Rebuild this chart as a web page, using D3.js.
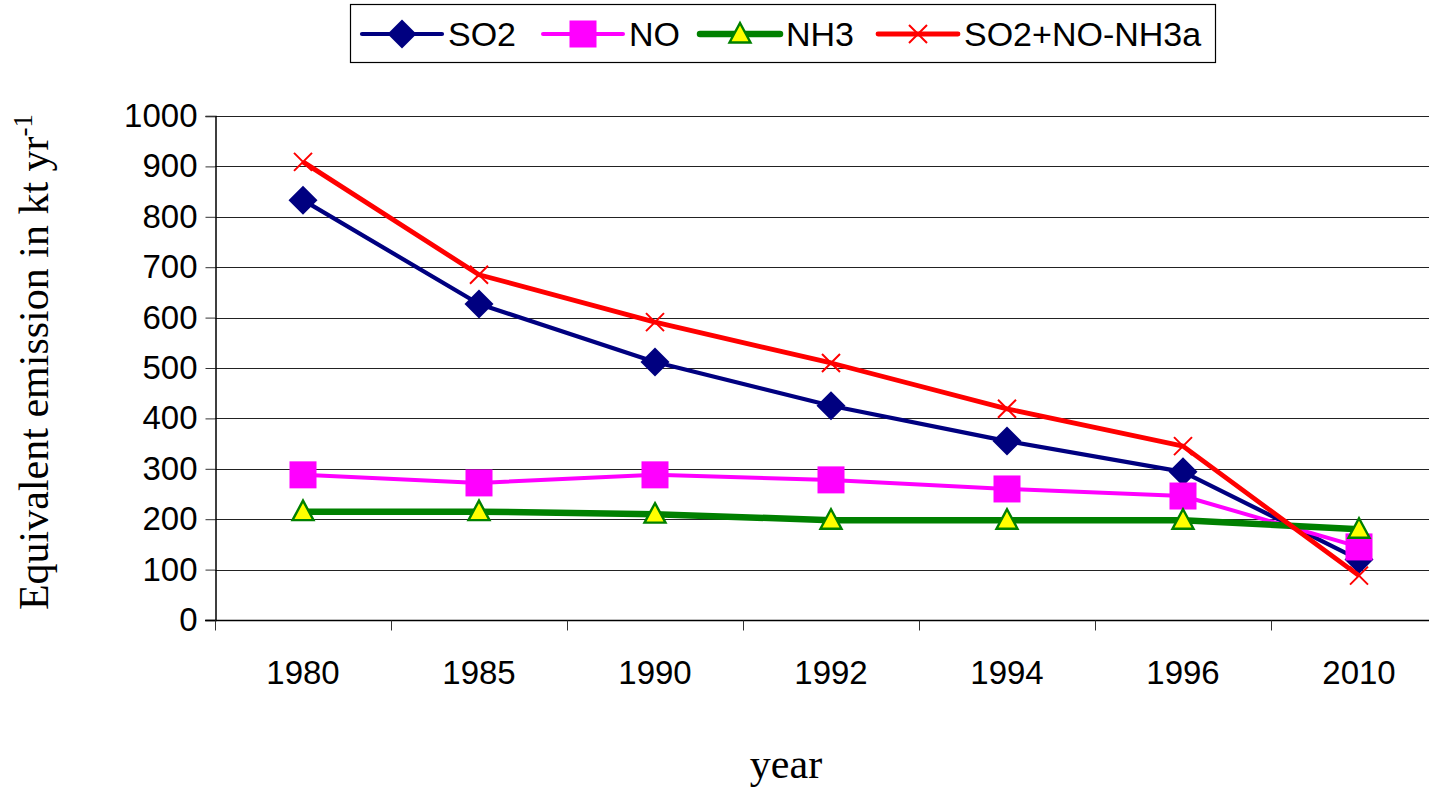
<!DOCTYPE html>
<html>
<head>
<meta charset="utf-8">
<script src="https://cdn.jsdelivr.net/npm/d3@7"></script>
<style>
  html, body { margin: 0; padding: 0; background: #fff; }
  svg { display: block; }
</style>
</head>
<body>
<svg id="chart" width="1429" height="788"></svg>
<script>
// Emission data (kt per year)
const years = ["1980", "1985", "1990", "1992", "1994", "1996", "2010"];
const so2 = [833, 627, 512, 425, 355, 294, 120];
const no = [288, 272, 288, 278, 260, 246, 145];
const nh3 = [215, 215, 210, 198, 198, 198, 180];
const combined = [909, 685, 591, 510, 419, 345, 88];
const yTicks = [0, 100, 200, 300, 400, 500, 600, 700, 800, 900, 1000];

const seriesList = [
  { name: "SO2", values: so2, color: "#000080", width: 4.2, marker: "diamond" },
  { name: "NO", values: no, color: "#FF00FF", width: 4, marker: "square" },
  { name: "NH3", values: nh3, color: "#008000", width: 6.5, marker: "triangle" },
  { name: "SO2+NO-NH3a", values: combined, color: "#FF0000", width: 4.8, marker: "cross" }
];

const svg = d3.select("#chart");
const plot = { left: 215, top: 116, right: 1447, bottom: 620 };
const sans = "Liberation Sans, Arial, sans-serif";
const serif = "Liberation Serif, Times New Roman, serif";

const x = d3.scaleBand().domain(years).range([plot.left, plot.right]).padding(0);
const y = d3.scaleLinear().domain([0, 1000]).range([plot.bottom, plot.top]);

// Horizontal gridlines
svg.append("g")
  .selectAll("line")
  .data(yTicks.filter(d => d > 0))
  .join("line")
  .attr("x1", plot.left).attr("x2", plot.right)
  .attr("y1", d => Math.round(y(d)) + 0.5).attr("y2", d => Math.round(y(d)) + 0.5)
  .attr("stroke", "#222").attr("stroke-width", 1);

// Y axis
const yAxis = svg.append("g")
  .attr("transform", `translate(${plot.left + 0.5},0)`)
  .call(d3.axisLeft(y).tickValues(yTicks).tickFormat(d3.format("d")).tickSize(10).tickPadding(8));
yAxis.select(".domain").attr("stroke", "#000").attr("stroke-width", 1.5);
yAxis.selectAll(".tick line").attr("stroke", "#333");
yAxis.selectAll(".tick text")
  .attr("font-family", sans)
  .attr("font-size", 33).attr("fill", "#000");

// X axis with ticks at category boundaries
const xAxisG = svg.append("g").attr("transform", `translate(0,${plot.bottom + 0.5})`);
xAxisG.append("line")
  .attr("x1", plot.left - 10).attr("x2", plot.right)
  .attr("stroke", "#000").attr("stroke-width", 1.5);
const boundaries = years.map(d => x(d)).concat([plot.right]);
xAxisG.selectAll("line.tick")
  .data(boundaries)
  .join("line")
  .attr("class", "tick")
  .attr("x1", d => Math.round(d) + 0.5).attr("x2", d => Math.round(d) + 0.5)
  .attr("y1", 0).attr("y2", 10)
  .attr("stroke", "#333");
xAxisG.selectAll("text")
  .data(years)
  .join("text")
  .attr("x", d => x(d) + x.bandwidth() / 2)
  .attr("y", 63)
  .attr("text-anchor", "middle")
  .attr("font-family", sans)
  .attr("font-size", 33)
  .text(d => d);

// Axis titles
const yTitle = svg.append("text")
  .attr("transform", "translate(48,362) rotate(-90)")
  .attr("text-anchor", "middle")
  .attr("font-family", serif)
  .attr("font-size", 42);
yTitle.append("tspan").text("Equivalent emission in kt yr");
yTitle.append("tspan").attr("font-size", 27).attr("dy", -16).text("-1");

svg.append("text")
  .attr("x", 786).attr("y", 778)
  .attr("text-anchor", "middle")
  .attr("font-family", serif)
  .attr("font-size", 42)
  .text("year");

// Marker drawing
function drawMarker(g, type, color) {
  if (type === "diamond") {
    g.append("path").attr("d", "M0,-14.5L14.5,0L0,14.5L-14.5,0Z").attr("fill", color);
  } else if (type === "square") {
    g.append("rect").attr("x", -13.5).attr("y", -13.5).attr("width", 27).attr("height", 27).attr("fill", color);
  } else if (type === "triangle") {
    g.append("path").attr("d", "M0,-11L10.5,8.5L-10.5,8.5Z")
      .attr("fill", "#FFFF00").attr("stroke", "#008000").attr("stroke-width", 2.4)
      .attr("stroke-linejoin", "miter");
  } else if (type === "cross") {
    g.append("path").attr("d", "M-9,-9L9,9M-9,9L9,-9")
      .attr("stroke", color).attr("stroke-width", 2).attr("fill", "none");
  }
}

const line = d3.line()
  .x((d, i) => x(years[i]) + x.bandwidth() / 2)
  .y(d => y(d));

seriesList.forEach(s => {
  const g = svg.append("g");
  g.append("path")
    .datum(s.values)
    .attr("d", line)
    .attr("fill", "none")
    .attr("stroke", s.color)
    .attr("stroke-width", s.width)
    .attr("stroke-linejoin", "round");
  s.values.forEach((v, i) => {
    const m = g.append("g")
      .attr("transform", `translate(${x(years[i]) + x.bandwidth() / 2},${y(v)})`);
    drawMarker(m, s.marker, s.color);
  });
});

// Legend
const legend = svg.append("g");
legend.append("rect")
  .attr("x", 350.5).attr("y", 4.5).attr("width", 865).attr("height", 58)
  .attr("fill", "#fff").attr("stroke", "#000").attr("stroke-width", 1.2);
const legendX = [362, 543, 700, 878];
seriesList.forEach((s, i) => {
  const lg = legend.append("g").attr("transform", `translate(${legendX[i]},34)`);
  lg.append("line").attr("x1", 0).attr("x2", 80)
    .attr("stroke", s.color).attr("stroke-width", s.width).attr("stroke-linecap", "round");
  const m = lg.append("g").attr("transform", "translate(40,0)");
  drawMarker(m, s.marker, s.color);
  lg.append("text")
    .attr("x", 86).attr("y", 12)
    .attr("font-family", sans)
    .attr("font-size", 34)
    .text(s.name);
});
</script>
</body>
</html>
